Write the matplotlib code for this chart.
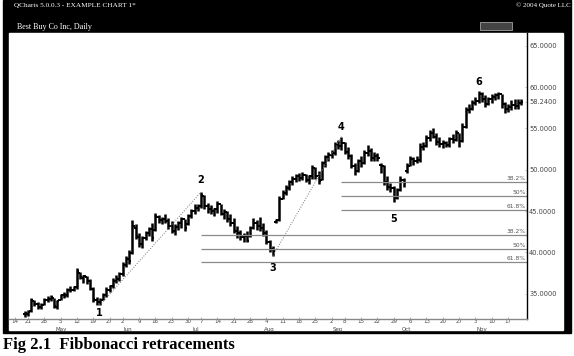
import matplotlib
matplotlib.use('Agg')
import matplotlib.pyplot as plt
from matplotlib.patches import Rectangle

W, H = 574, 356

# daily bars, x = trading day counted from Mon 14 Apr 2003
first_day = 3
opens = [32.5, 32.6, 32.9, 34.1, 33.8, 33.4, 33.7, 34.2, 34.4, 34.5,
         33.4, 34.2, 34.8, 34.8, 35.5, 35.4, 35.8, 37.5, 36.9, 37.0,
         36.5, 35.6, 34.3, 34.0, 34.3, 34.9, 35.5, 35.9, 36.6, 36.8,
         37.4, 38.5, 39.2, 39.9, 43.0, 41.9, 41.0, 41.8, 42.3, 42.8,
         42.7, 44.3, 43.9, 44.0, 43.8, 43.2, 42.6, 43.1, 43.5, 44.0,
         43.4, 44.4, 45.0, 45.4, 45.6, 46.8, 45.6, 45.3, 45.0, 45.2,
         45.8, 44.7, 44.9, 44.0, 43.5, 42.6, 42.3, 41.9, 42.0, 42.0,
         43.0, 43.6, 43.2, 43.0, 42.3, 41.2, 40.4, 43.7, 43.9, 46.5,
         47.2, 47.8, 48.5, 48.9, 49.2, 49.0, 49.4, 48.8, 49.2, 50.2,
         49.3, 48.7, 50.8, 51.5, 51.8, 52.0, 53.0, 52.9, 53.2, 52.2,
         51.6, 50.5, 49.8, 51.0, 50.8, 52.0, 52.3, 51.4, 51.7, 50.6,
         50.4, 48.5, 47.9, 47.8, 46.6, 47.5, 48.7, 49.8, 50.5, 51.3,
         51.0, 51.2, 52.8, 52.9, 53.8, 54.4, 54.0, 53.4, 53.1, 53.2,
         53.0, 53.7, 53.6, 54.4, 53.5, 55.2, 57.2, 57.4, 58.1, 58.3,
         59.2, 58.6, 58.0, 58.5, 58.8, 59.0, 59.1, 57.9, 57.3, 57.6,
         57.8, 57.7, 58.1]
highs = [32.9, 33.0, 34.5, 34.3, 34.0, 33.9, 34.5, 34.7, 34.8, 34.5,
         34.3, 35.0, 35.2, 35.7, 35.9, 36.0, 38.1, 37.6, 37.3, 37.2,
         36.8, 35.8, 34.6, 34.5, 35.1, 35.8, 36.1, 36.9, 37.3, 37.6,
         38.8, 39.6, 40.3, 43.9, 43.4, 42.4, 42.0, 42.6, 43.1, 43.5,
         44.8, 44.5, 44.3, 44.6, 44.2, 43.8, 43.4, 43.8, 44.3, 44.0,
         44.6, 45.3, 45.8, 45.9, 47.3, 46.9, 46.0, 45.7, 45.4, 46.2,
         45.9, 45.3, 45.0, 44.6, 44.2, 43.2, 42.7, 42.4, 42.6, 43.2,
         44.2, 43.9, 44.3, 43.6, 42.7, 41.5, 40.8, 44.0, 46.8, 47.5,
         48.2, 48.8, 49.3, 49.5, 49.6, 49.7, 49.5, 49.4, 50.6, 50.3,
         49.8, 51.0, 51.8, 52.1, 52.4, 53.3, 53.6, 54.0, 53.4, 52.7,
         51.9, 50.8, 51.3, 51.6, 52.4, 53.0, 52.6, 52.2, 52.0, 50.8,
         50.6, 49.2, 48.4, 48.0, 47.8, 49.2, 49.0, 50.8, 51.6, 51.5,
         51.7, 53.2, 53.4, 54.2, 54.8, 55.0, 54.4, 54.0, 53.6, 53.5,
         54.0, 54.3, 54.8, 54.4, 55.6, 57.6, 58.0, 58.4, 58.8, 59.5,
         59.4, 59.0, 58.8, 59.1, 59.3, 59.4, 59.2, 58.2, 58.0, 58.4,
         58.6, 58.5, 58.6]
lows = [32.2, 32.3, 32.8, 33.5, 33.2, 33.1, 33.6, 34.0, 34.1, 33.3,
        33.1, 34.2, 34.5, 34.6, 35.2, 35.3, 35.6, 36.8, 36.3, 36.2,
        35.4, 34.0, 33.7, 33.6, 34.2, 34.6, 35.2, 35.7, 36.3, 36.6,
        37.1, 38.2, 38.6, 39.8, 41.6, 40.6, 40.5, 41.5, 42.0, 41.4,
        42.6, 43.5, 43.4, 43.6, 42.8, 42.3, 42.1, 42.7, 43.0, 42.6,
        43.3, 44.2, 44.6, 45.0, 45.4, 45.2, 44.8, 44.6, 44.4, 44.8,
        44.5, 44.0, 43.7, 43.2, 42.3, 41.8, 41.5, 41.3, 41.2, 41.9,
        42.8, 42.7, 42.6, 42.0, 41.0, 40.1, 39.6, 43.6, 43.8, 46.4,
        47.0, 47.6, 48.2, 48.5, 48.6, 48.7, 48.5, 48.3, 48.9, 48.9,
        48.3, 48.7, 50.3, 51.0, 51.4, 51.8, 52.5, 52.4, 51.9, 51.3,
        50.2, 49.4, 49.7, 50.3, 50.7, 51.6, 51.0, 51.0, 51.1, 49.6,
        48.2, 47.5, 47.3, 46.1, 46.4, 47.4, 47.9, 49.6, 50.4, 50.6,
        50.8, 50.9, 52.4, 52.8, 53.5, 53.8, 53.0, 52.8, 52.6, 52.7,
        52.8, 53.2, 53.5, 52.8, 53.4, 55.0, 56.8, 57.2, 57.8, 58.1,
        58.2, 57.6, 57.8, 58.1, 58.4, 58.6, 57.5, 56.9, 57.0, 57.2,
        57.3, 57.4, 57.8]
closes = [32.7, 32.8, 34.2, 33.8, 33.4, 33.7, 34.3, 34.4, 34.6, 33.5,
          34.1, 34.8, 34.7, 35.5, 35.4, 35.8, 37.8, 37.0, 37.1, 36.5,
          35.6, 34.4, 34.0, 34.3, 34.9, 35.5, 35.9, 36.6, 36.8, 37.4,
          38.5, 39.2, 39.0, 43.2, 42.0, 41.0, 41.8, 42.3, 42.8, 41.7,
          44.4, 43.9, 44.0, 43.8, 43.2, 42.6, 43.1, 43.5, 44.0, 43.0,
          44.4, 45.0, 45.4, 45.6, 47.0, 45.6, 45.3, 45.0, 45.2, 45.8,
          44.7, 44.9, 44.0, 43.5, 42.6, 42.3, 41.9, 42.0, 41.4, 43.0,
          43.6, 43.2, 43.0, 42.3, 41.2, 40.4, 40.2, 43.9, 46.5, 47.2,
          47.8, 48.5, 48.9, 49.2, 49.0, 49.4, 48.8, 49.2, 50.2, 49.3,
          48.6, 50.8, 51.5, 51.8, 52.0, 53.0, 52.9, 53.2, 52.2, 51.6,
          50.5, 49.8, 51.0, 50.8, 52.0, 52.3, 51.4, 51.7, 51.4, 50.4,
          48.5, 47.9, 47.8, 46.6, 47.5, 48.7, 48.4, 50.5, 51.3, 51.0,
          51.2, 52.8, 52.9, 53.8, 54.4, 54.0, 53.4, 53.1, 53.2, 53.0,
          53.7, 53.6, 54.4, 53.5, 55.2, 57.2, 57.4, 58.1, 58.3, 59.2,
          58.6, 58.0, 58.5, 58.8, 59.0, 59.1, 57.9, 57.3, 57.6, 57.8,
          57.7, 58.1, 58.24]

# date axis: weekly ticks
tick_days = [0, 4, 9, 14, 19, 24, 29, 33, 38, 43, 48, 53, 57, 62, 67, 72,
             77, 82, 87, 92, 97, 101, 106, 111, 116, 121, 126, 131, 136,
             141, 146, 151]
tick_labels = ['14', '21', '28', '5', '12', '19', '27', '2', '9', '16', '23',
               '30', '7', '14', '21', '28', '4', '11', '18', '25', '2', '8',
               '15', '22', '29', '6', '13', '20', '27', '3', '10', '17']
month_days = [12, 33, 54, 76, 97, 118, 141]
month_labels = ['May', 'Jun', 'Jul', 'Aug', 'Sep', 'Oct', 'Nov']

price_ticks = [35, 40, 45, 50, 55, 58.24, 60, 65]

# swing points: (label, day, price of the high/low, label price)
swings = [('1', 26, 33.6, 32.7), ('2', 57, 47.3, 48.7), ('3', 79, 39.6, 38.1),
          ('4', 100, 54.0, 55.2), ('5', 116, 46.1, 44.1), ('6', 142, 59.5, 60.6)]
fib_ratios = [0.382, 0.5, 0.618]
fib_names = ['38.2%', '50%', '61.8%']


def frac(x0, y0, x1, y1):
    return (x0 / W, 1 - y1 / H), (x1 - x0) / W, (y1 - y0) / H


fig = plt.figure(figsize=(W / 100, H / 100), dpi=100)
fig.patch.set_facecolor('white')

# window frame
xy, w, h = frac(3, 0, 571, 333)
fig.add_artist(Rectangle(xy, w, h, transform=fig.transFigure, color='black', zorder=-3))
xy, w, h = frac(9, 33, 563, 330)
fig.add_artist(Rectangle(xy, w, h, transform=fig.transFigure, color='white', zorder=-2))
xy, w, h = frac(480, 22, 512, 30)
fig.add_artist(Rectangle(xy, w, h, transform=fig.transFigure, facecolor='#444444',
                         edgecolor='#bbbbbb', lw=0.5, zorder=-1))
fig.text(14 / W, 1 - 5.5 / H, 'QCharts 5.0.0.3 - EXAMPLE CHART 1*', color='white',
         fontsize=5.2, family='Liberation Serif', va='center')
fig.text(571 / W, 1 - 5.5 / H, '\u00a9 2004 Quote LLC', color='white',
         fontsize=5, family='Liberation Serif', va='center', ha='right')
fig.text(17 / W, 1 - 27 / H, 'Best Buy Co Inc, Daily', color='white',
         fontsize=5.8, family='Liberation Serif', va='center')

ax = fig.add_axes([9 / W, 1 - 319 / H, (527 - 9) / W, (319 - 33) / H])
ax.patch.set_visible(False)
ax.set_xlim(-1.8, 156.8)
ax.set_ylim(31.95, 66.53)

days = list(range(first_day, first_day + len(closes)))
ax.vlines(days, lows, highs, color='black', lw=1.8)
ax.hlines(opens, [d - 0.65 for d in days], days, color='black', lw=1.4)
ax.hlines(closes, days, [d + 0.65 for d in days], color='black', lw=1.4)

# fibonacci retracements from swing 1->2 and 3->4
for (a, b) in [(0, 1), (2, 3)]:
    _, d0, p0, _ = swings[a]
    _, d1, p1, _ = swings[b]
    ax.plot([d0, d1], [p0, p1], color='#777777', lw=0.7, ls=(0, (1, 1.6)))
    for r, name in zip(fib_ratios, fib_names):
        level = p1 - r * (p1 - p0)
        ax.hlines(level, d1, 156.8, color='#8a8a8a', lw=0.9)
        ax.text(156.5, level + 0.12, name, fontsize=4.3, color='#555555',
                ha='right', va='bottom')

for name, d, p, lp in swings:
    ax.text(d, lp, name, fontsize=7, fontweight='bold', ha='center', va='center')

for s in ['left', 'top']:
    ax.spines[s].set_visible(False)
ax.spines['right'].set_linewidth(1)
ax.spines['bottom'].set_linewidth(1)
ax.spines['bottom'].set_color('#888888')

ax.set_xticks(tick_days)
ax.set_xticklabels(tick_labels)
ax.tick_params(axis='x', direction='in', length=1.5, width=0.5, pad=0.2,
               labelsize=4.0, labelcolor='#444444', color='#888888')
for d, m in zip(month_days, month_labels):
    ax.text(d + 0.3, -0.027, m, transform=ax.get_xaxis_transform(),
            fontsize=4.0, color='#444444', ha='left', va='top')

ax.yaxis.tick_right()
ax.set_yticks(price_ticks)
ax.set_yticklabels(['%.4f' % p for p in price_ticks])
ax.tick_params(axis='y', direction='in', length=1.5, width=0.5, pad=1.5,
               labelsize=4.8, labelcolor='#444444', color='#aaaaaa')

fig.text(3 / W, 1 - 345 / H, 'Fig 2.1  Fibbonacci retracements', family='Liberation Serif',
         fontweight='bold', fontsize=12, va='center')

fig.savefig('out.png', dpi=100)
